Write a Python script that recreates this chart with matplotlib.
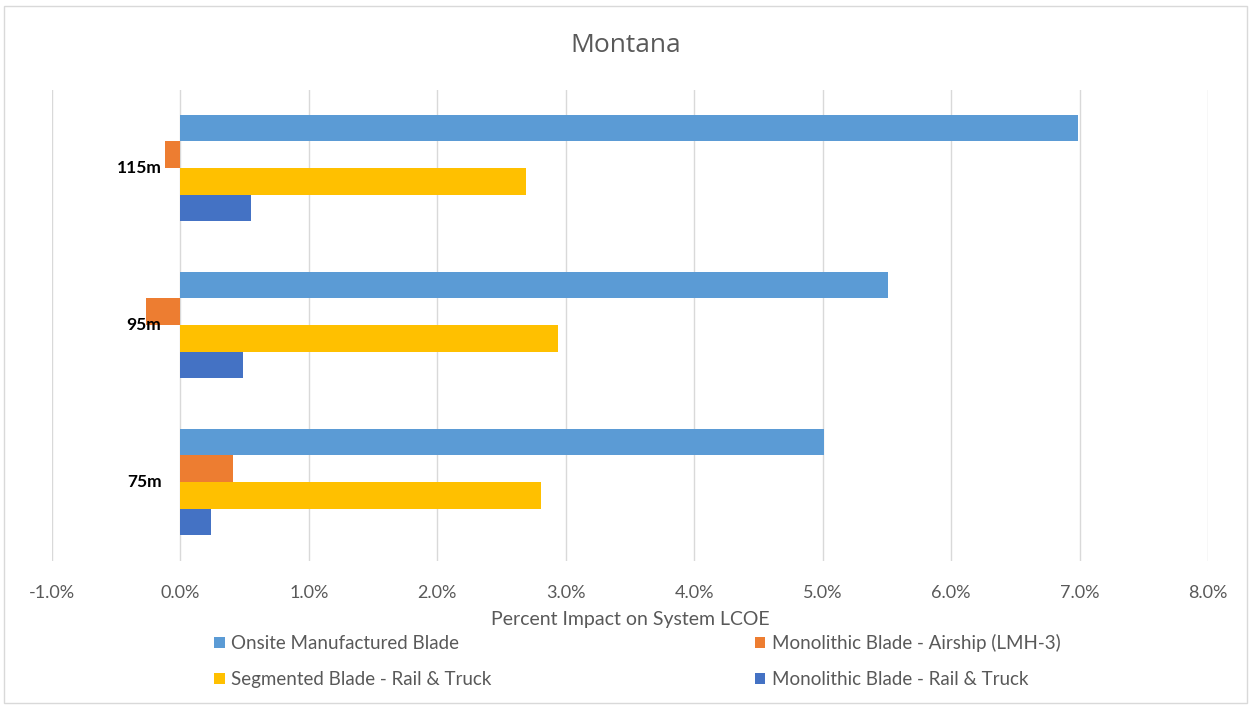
import matplotlib.pyplot as plt
import numpy as np
from matplotlib.patches import Rectangle
from matplotlib.transforms import offset_copy

plt.rcParams['font.family'] = ['Lato', 'DejaVu Sans']

# categories bottom-to-top as drawn
categories = ['75m', '95m', '115m']
series_names = ['Onsite Manufactured Blade', 'Monolithic Blade - Airship (LMH-3)',
                'Segmented Blade - Rail & Truck', 'Monolithic Blade - Rail & Truck']
colors = ['#5B9BD5', '#ED7D31', '#FFC000', '#4472C4']

# percent impact on system LCOE, per category (75m, 95m, 115m)
onsite = [5.01, 5.51, 6.99]
airship = [0.41, -0.27, -0.12]
segmented = [2.81, 2.94, 2.69]
rail_truck = [0.24, 0.49, 0.55]
values = [onsite, airship, segmented, rail_truck]

xticks = np.arange(-1, 9, 1)

fig = plt.figure(figsize=(12.51, 7.07), dpi=100)
ax = fig.add_axes([52 / 1251, 1 - 560.5 / 707, (1208 - 52) / 1251, (560.5 - 89.5) / 707])

# outer chart frame like the Excel chart area
fig.patches.append(Rectangle((4 / 1251, 4 / 707), 1243 / 1251, 697 / 707, transform=fig.transFigure,
                             fill=False, edgecolor='#D9D9D9', linewidth=1))

h = 0.169
offsets = [1.5 * h, 0.5 * h, -0.5 * h, -1.5 * h]
y = np.arange(len(categories))
bars = []
for vals, off, col, name in zip(values, offsets, colors, series_names):
    b = ax.barh(y + off, vals, height=h, color=col, label=name, zorder=3)
    bars.append(b)

ax.set_xlim(-1, 8)
ax.set_ylim(-0.5, 2.5)
ax.set_xticks(xticks)
ax.set_xticklabels([f'{t:.1f}%' for t in xticks], fontsize=13, color='#595959')
ax.set_yticks([])
ax.tick_params(axis='x', length=0, pad=18)
ax.grid(axis='x', color='#D9D9D9', linewidth=1, zorder=0)
for s in ax.spines.values():
    s.set_visible(False)

# category labels next to the zero axis
lab_tr = offset_copy(ax.transData, fig=fig, x=-19, y=0, units='dots')
for yi, c in zip(y, categories):
    ax.text(0, yi, c, transform=lab_tr, ha='right', va='center', fontsize=12.5,
            fontweight='bold', color='black')

ax.set_xlabel('Percent Impact on System LCOE', fontsize=14, color='#595959', labelpad=7)
fig.text(0.5, 1 - 45 / 707, 'Montana', ha='center', va='center', fontsize=19,
         color='#595959', family=['Open Sans', 'DejaVu Sans'])

order = [0, 2, 1, 3]
fig.legend([bars[i] for i in order], [series_names[i] for i in order],
           ncol=2, loc='center', bbox_to_anchor=(0.5 + 12 / 1251, 1 - 661 / 707), frameon=False,
           fontsize=13.5, handlelength=0.55, handleheight=0.55, handletextpad=0.35,
           columnspacing=14.05, labelspacing=1.0, labelcolor='#595959')

fig.savefig('out.png', dpi=100)
